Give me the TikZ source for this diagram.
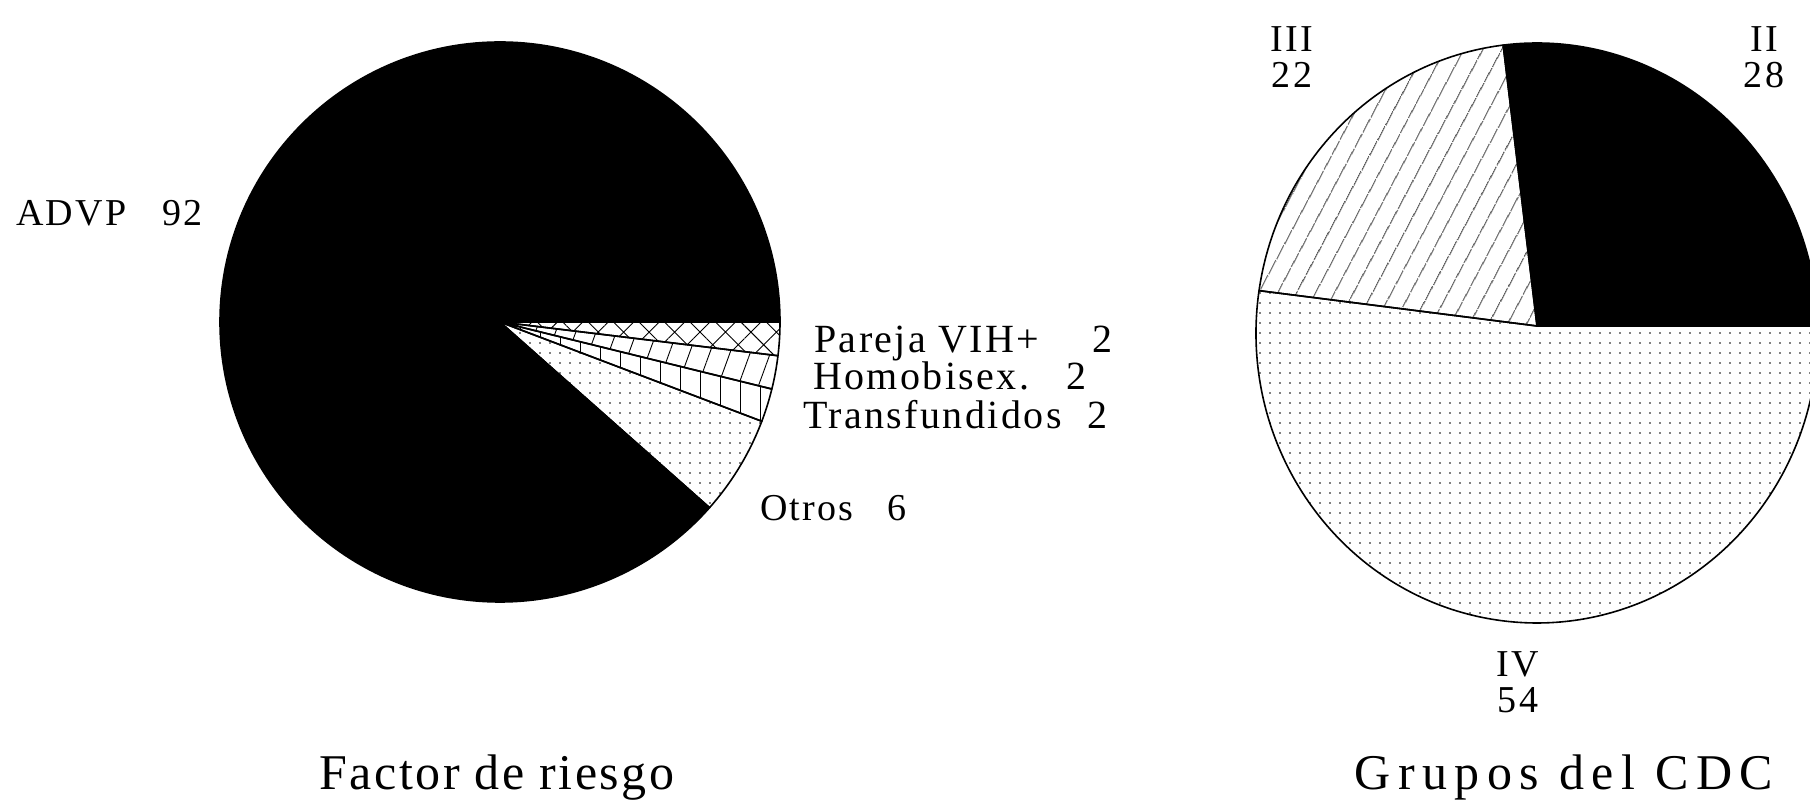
\documentclass[tikz,border=0pt]{standalone}
\usepackage{fontspec}
\setmainfont{Liberation Serif}[LetterSpace=6]
\usetikzlibrary{patterns.meta}

\begin{document}
\begin{tikzpicture}
        [x=1pt, y=1pt,
        lbl/.style={font=\fontsize{38}{36}\selectfont, inner sep=0pt},
        tight/.style={font=\fontsize{40}{40}\selectfont, inner sep=0pt, anchor=base west, text height=24pt, text depth=2pt},
        ttl/.style={font=\fontsize{50}{58}\selectfont, inner sep=0pt},
        slice/.style={draw=black, line width=1.6pt, line join=round},
        solid/.style={slice, fill=black},
        crossed/.style={slice, pattern={Hatch[angle=45, distance=18pt, line width=0.9pt]}},
        slanted/.style={slice, pattern={Lines[angle=70, distance=19pt, line width=0.9pt]}},
        upright/.style={slice, pattern={Lines[angle=90, distance=20pt, line width=0.9pt]}},
        hatched/.style={slice, pattern={Lines[angle=62, distance=17pt, line width=0.9pt]}},
        dotted/.style={slice, pattern={Dots[distance=10pt, radius=0.9pt]}}]

        \useasboundingbox (0,0) rectangle (1810,803);

        \coordinate (L) at (500,481);
        \coordinate (E) at (1537,470);
        \coordinate (R) at (1537,477);

        % Factor de riesgo
        \draw[solid] (L) -- ++(0:280pt) arc[start angle=0, end angle=318.46, radius=280pt] -- cycle;
        \draw[crossed] (L) -- ++(-6.92:280pt) arc[start angle=-6.92, end angle=0, radius=280pt] -- cycle;
        \draw[slanted] (L) -- ++(-13.85:280pt) arc[start angle=-13.85, end angle=-6.92, radius=280pt] -- cycle;
        \draw[upright] (L) -- ++(-20.77:280pt) arc[start angle=-20.77, end angle=-13.85, radius=280pt] -- cycle;
        \draw[dotted] (L) -- ++(-41.54:280pt) arc[start angle=-41.54, end angle=-20.77, radius=280pt] -- cycle;

        % Grupos del CDC (slices meet a little above the middle)
        \begin{scope}
        \clip (0,0) rectangle (1810,803);
        \draw[solid] (R) -- ([shift={(E)}]1.38:281pt and 290pt) arc[start angle=1.38, end angle=96.92, x radius=281pt, y radius=290pt] -- cycle;
        \draw[hatched] (R) -- ([shift={(E)}]96.92:281pt and 290pt) arc[start angle=96.92, end angle=171.6, x radius=281pt, y radius=290pt] -- cycle;
        \draw[dotted] (R) -- ([shift={(E)}]171.6:281pt and 290pt) arc[start angle=171.6, end angle=361.38, x radius=281pt, y radius=290pt] -- cycle;
        \end{scope}

        % labels of the slices
        \node[lbl, anchor=base west] (advp) at (16,577) {ADVP\hspace{36pt}92};
        \node[tight] (pareja) at (814,450) {Pareja VIH+\hspace{53pt}2};
        \node[tight] (homobisex) at (813,413) {Homobisex.\hspace{37pt}2};
        \node[tight] (transf) at (803,374) {Transfundidos\hspace{26pt}2};
        \node[lbl, anchor=base west] (otros) at (760,282) {Otros\hspace{34pt}6};
        \node[lbl, anchor=base, align=center] (iii) at (1292,715) {III\\22};
        \node[lbl, anchor=base, align=center] (ii) at (1764,715) {II\\28};
        \node[lbl, anchor=base, align=center] (iv) at (1518,90) {IV\\54};

        % titles
        \node[ttl, anchor=base] (riesgo) at (497,13) {\addfontfeature{LetterSpace=5}Factor de riesgo};
        \node[ttl, anchor=base] (cdc) at (1564,13) {\addfontfeature{LetterSpace=15}Grupos del CDC};

        \end{tikzpicture}
\end{document}
